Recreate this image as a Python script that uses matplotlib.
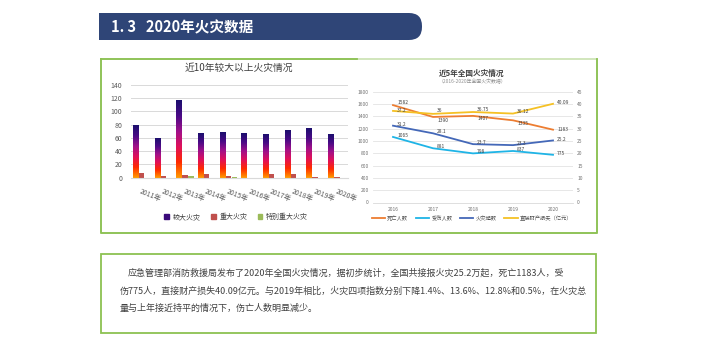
import matplotlib
matplotlib.use('Agg')
import matplotlib.pyplot as plt
import numpy as np
from matplotlib.patches import Rectangle, FancyBboxPatch, Patch
from matplotlib.colors import LinearSegmentedColormap

plt.rcParams['font.family'] = ['Noto Sans CJK SC', 'DejaVu Sans']

# DATA
years10 = ['2011年', '2012年', '2013年', '2014年', '2015年',
           '2016年', '2017年', '2018年', '2019年', '2020年']
larger = [80, 59, 117, 67, 68, 67, 65, 71, 75, 65]
major = [7, 2, 4, 5, 3, 0, 6, 5, 1, 1]
extra = [0, 0, 2, 0, 1, 0, 0, 0, 0, 0]
bar_names = ['较大火灾', '重大火灾', '特别重大火灾']

years5 = ['2016', '2017', '2018', '2019', '2020']
deaths = [1582, 1390, 1407, 1335, 1183]
injured = [1065, 881, 798, 837, 775]
fires = [31.2, 28.1, 23.7, 23.3, 25.2]
loss = [37.2, 36, 36.75, 36.12, 40.09]
loss_lbl = ['37.2', '36', '36.75', '36.12', '40.09']
line_names = ['死亡人数', '受伤人数', '火灾起数', '直接财产损失（亿元）']

heading = '1. 3   2020年火灾数据'
para = ['应急管理部消防救援局发布了2020年全国火灾情况，据初步统计，全国共接报火灾25.2万起，死亡1183人，受',
        '伤775人，直接财产损失40.09亿元。与2019年相比，火灾四项指数分别下降1.4%、13.6%、12.8%和0.5%，在火灾总',
        '量与上年接近持平的情况下，伤亡人数明显减少。']

W, H = 704, 352
fig = plt.figure(figsize=(W / 100, H / 100), dpi=100)

# background layer in pixel coords
bg = fig.add_axes([0, 0, 1, 1], zorder=0)
bg.set_xlim(0, W)
bg.set_ylim(H, 0)
bg.axis('off')

# heading banner
bg.add_patch(Rectangle((99, 13), 310, 27, color='#2f4577', lw=0))
bg.add_patch(FancyBboxPatch((380, 13), 42, 27, boxstyle='round,pad=0,rounding_size=13',
                            color='#2f4577', lw=0))
bg.text(111, 27, heading, color='white', fontsize=10.5, fontweight='bold', va='center', ha='left')

# chart frame
bg.add_patch(Rectangle((101, 58.5), 496, 174.5, fill=False, ec='#c9e2b0', lw=1.2))
bg.plot([101, 357], [58.5, 58.5], color='#8cc152', lw=1.3)
bg.plot([101, 101, 597, 597], [58.5, 233, 233, 58.5], color='#8cc152', lw=1.3)

# text box
bg.add_patch(Rectangle((101, 254), 495, 79, fill=False, ec='#8cc152', lw=1.3))
bg.text(128, 273, para[0], fontsize=6.5, color='#404040', va='center', ha='left')
bg.text(120, 291, para[1], fontsize=6.5, color='#404040', va='center', ha='left')
bg.text(120, 308, para[2], fontsize=6.5, color='#404040', va='center', ha='left')

# ---- left: bar chart ----
ax1 = fig.add_axes([130.7 / W, 1 - 177.7 / H, 217 / W, 92.7 / H], zorder=1)
x = np.arange(len(years10))
bw = 0.25
cmap = LinearSegmentedColormap.from_list('fire', ['#ff9a00', '#ff2a00', '#e0105a',
                                                  '#a0108a', '#4a0a86', '#1c0f6e'])
grad = np.linspace(0, 1, 100).reshape(-1, 1)
for i, v in enumerate(larger):
    ax1.imshow(grad, extent=[x[i] - 1.1 * bw - bw / 2, x[i] - 1.1 * bw + bw / 2, 0, v],
               aspect='auto', cmap=cmap, origin='lower', zorder=2)
ax1.bar(x, major, bw, color='#c0504d', zorder=2)
ax1.bar(x + 1.1 * bw, extra, bw, color='#9bbb59', zorder=2)
ax1.set_xlim(-0.5, 9.5)
ax1.set_ylim(0, 140)
ax1.set_yticks(range(0, 141, 20))
ax1.yaxis.grid(True, color='#d9d9d9', lw=0.7)
ax1.set_axisbelow(True)
for s in ['top', 'right', 'left']:
    ax1.spines[s].set_visible(False)
ax1.spines['bottom'].set_color('#d9d9d9')
ax1.tick_params(length=0, labelsize=5, labelcolor='#595959', pad=7)
ax1.set_xticks(x)
ax1.set_xticklabels(years10, rotation=-22, ha='left', va='top', rotation_mode='anchor')
ax1.tick_params(axis='y', pad=6)
ax1.set_title('近10年较大以上火灾情况', fontsize=7, color='#404040', pad=10)
h1 = [Patch(color='#3a0a7a'), Patch(color='#c0504d'), Patch(color='#9bbb59')]
fig.legend(h1, bar_names, loc='center', bbox_to_anchor=(236 / W, 1 - 217 / H), ncol=3,
           fontsize=5, frameon=False, handlelength=0.7, handleheight=0.7,
           columnspacing=1.5, handletextpad=0.5, labelcolor='#404040')

# ---- right: line chart ----
ax2 = fig.add_axes([373 / W, 1 - 202.5 / H, 200 / W, 110.8 / H], zorder=1)
ax3 = ax2.twinx()
xi = np.arange(len(years5))
l1, = ax2.plot(xi, deaths, color='#ed7d31', lw=1.3)
l2, = ax2.plot(xi, injured, color='#1fb4e6', lw=1.3)
l3, = ax3.plot(xi, fires, color='#4468b8', lw=1.3)
l4, = ax3.plot(xi, loss, color='#f5c125', lw=1.3)
lab = dict(fontsize=3.5, color='#404040', va='center', ha='left', textcoords='offset points')
death_off = [(3, 2), (3, -2.5), (3, -2), (3, -2), (3, 0)]
loss_off = [(3, 0), (3, 2.5), (3, 2), (3, 1.5), (3, 1)]
for i in range(5):
    ax2.annotate(str(deaths[i]), (xi[i], deaths[i]), xytext=death_off[i], **lab)
    ax2.annotate(str(injured[i]), (xi[i], injured[i]), xytext=(3, 1), **lab)
    ax3.annotate(str(fires[i]), (xi[i], fires[i]), xytext=(3, 1), **lab)
    ax3.annotate(loss_lbl[i], (xi[i], loss[i]), xytext=loss_off[i], **lab)
ax2.set_xlim(-0.5, 4.5)
ax2.set_ylim(0, 1800)
ax3.set_ylim(0, 45)
ax2.set_yticks(range(0, 1801, 200))
ax3.set_yticks(range(0, 46, 5))
ax2.set_xticks(xi)
ax2.set_xticklabels(years5)
ax2.yaxis.grid(True, color='#e3e3e3', lw=0.6)
for a in (ax2, ax3):
    for s in a.spines.values():
        s.set_visible(False)
    a.tick_params(length=0, labelsize=3.5, labelcolor='#707070', pad=3)
ax2.spines['bottom'].set_visible(True)
ax2.spines['bottom'].set_color('#d9d9d9')
ax2.spines['bottom'].set_linewidth(0.6)
fig.text(472 / W, 1 - 73 / H, '近5年全国火灾情况', fontsize=5.5, fontweight='bold',
         color='#404040', ha='center', va='center')
fig.text(472 / W, 1 - 82 / H, '（2016-2020年全国火灾数据）', fontsize=3.5,
         color='#909090', ha='center', va='center')
fig.legend([l1, l2, l3, l4], line_names, loc='center', bbox_to_anchor=(472 / W, 1 - 218 / H),
           ncol=4, fontsize=3.8, frameon=False, handlelength=2.5, columnspacing=1.5,
           handletextpad=0.4, labelcolor='#505050')

fig.savefig('out.png', dpi=100)
